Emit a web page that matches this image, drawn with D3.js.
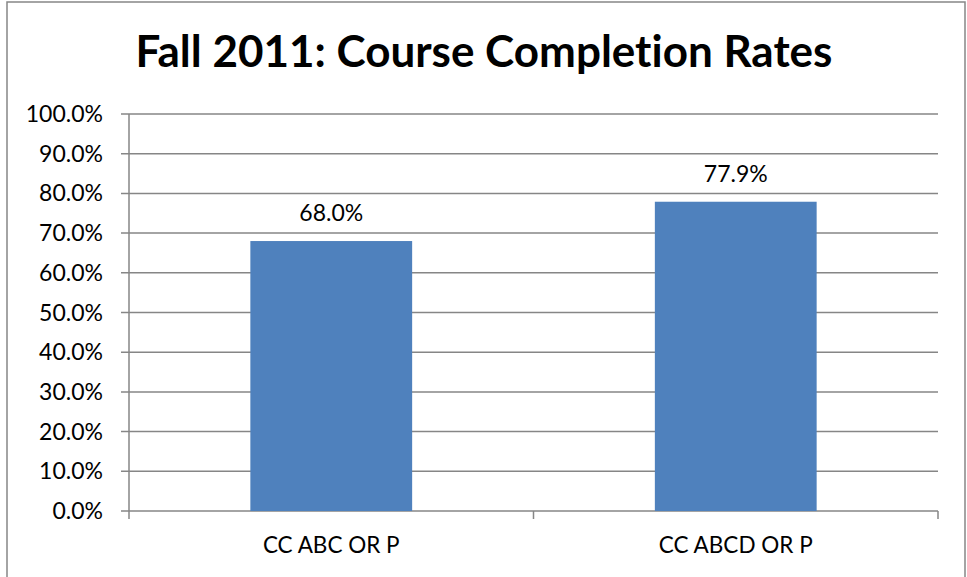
<!DOCTYPE html>
<html>
  <head>
    <meta http-equiv="Content-Type" content="text/html;charset=utf-8"/>
    <title>Course Completion Rates</title>
    <script src="https://d3js.org/d3.v7.min.js"></script>
    <style>
      body { margin: 0; background: #fff; }
      text { font-family: Lato, "Open Sans", sans-serif; fill: #000; font-variant-ligatures: none; }
    </style>
  </head>
  <body>
    <script type="text/javascript">
        // chart data
        const categories = ['CC ABC OR P', 'CC ABCD OR P']
        const rates = [68.0, 77.9]
        const yTicks = [0, 10, 20, 30, 40, 50, 60, 70, 80, 90, 100]
        const title = 'Fall 2011: Course Completion Rates'

        const width = 967,
              height = 577
        const margin = { left: 129, right: 29, top: 114, bottom: 66 }

        const svg = d3.select('body').append('svg')
            .attr('width', width)
            .attr('height', height)

        // outer frame
        svg.append('rect')
            .attr('x', 7).attr('y', 2)
            .attr('width', 958).attr('height', 600)
            .attr('fill', 'none')
            .attr('stroke', '#868686')
            .attr('stroke-width', 1.5)

        const x = d3.scaleBand()
            .domain(categories)
            .range([margin.left, width - margin.right])
            .paddingInner(0.6)
            .paddingOuter(0.3)

        const y = d3.scaleLinear()
            .domain([0, 100])
            .range([height - margin.bottom, margin.top])

        // gridlines
        svg.append('g')
            .selectAll('line')
            .data(yTicks)
            .enter()
            .append('line')
            .attr('x1', margin.left - 8)
            .attr('x2', width - margin.right)
            .attr('y1', d => y(d))
            .attr('y2', d => y(d))
            .attr('stroke', '#868686')
            .attr('stroke-width', 1.5)

        // y axis line
        svg.append('line')
            .attr('x1', margin.left).attr('x2', margin.left)
            .attr('y1', y(100)).attr('y2', y(0))
            .attr('stroke', '#868686')
            .attr('stroke-width', 1.5)

        // x tick marks at band boundaries
        const xEdges = [margin.left, (margin.left + width - margin.right) / 2, width - margin.right]
        svg.append('g')
            .selectAll('line')
            .data(xEdges)
            .enter()
            .append('line')
            .attr('x1', d => d).attr('x2', d => d)
            .attr('y1', y(0)).attr('y2', y(0) + 8)
            .attr('stroke', '#868686')
            .attr('stroke-width', 1.5)

        // y tick labels
        svg.append('g')
            .selectAll('text')
            .data(yTicks)
            .enter()
            .append('text')
            .attr('x', 103)
            .attr('y', d => y(d))
            .attr('dy', '0.35em')
            .attr('text-anchor', 'end')
            .style('font-size', '23px')
            .text(d => d.toFixed(1) + '%')

        // bars
        svg.append('g')
            .selectAll('rect')
            .data(rates)
            .enter()
            .append('rect')
            .attr('x', (d, i) => x(categories[i]))
            .attr('y', d => y(d))
            .attr('width', x.bandwidth())
            .attr('height', d => y(0) - y(d))
            .attr('fill', '#4F81BD')

        // value labels
        svg.append('g')
            .selectAll('text')
            .data(rates)
            .enter()
            .append('text')
            .attr('x', (d, i) => x(categories[i]) + x.bandwidth() / 2)
            .attr('y', d => y(d) - 20)
            .attr('text-anchor', 'middle')
            .style('font-size', '23px')
            .text(d => d.toFixed(1) + '%')

        // category labels
        svg.append('g')
            .selectAll('text')
            .data(categories)
            .enter()
            .append('text')
            .attr('x', d => x(d) + x.bandwidth() / 2)
            .attr('y', y(0) + 42)
            .attr('text-anchor', 'middle')
            .style('font-size', '22.5px')
            .text(d => d)

        // title
        svg.append('text')
            .attr('x', 484)
            .attr('y', 67)
            .attr('text-anchor', 'middle')
            .style('font-size', '44px')
            .style('font-weight', 'bold')
            .text(title)
    </script>
  </body>
</html>
